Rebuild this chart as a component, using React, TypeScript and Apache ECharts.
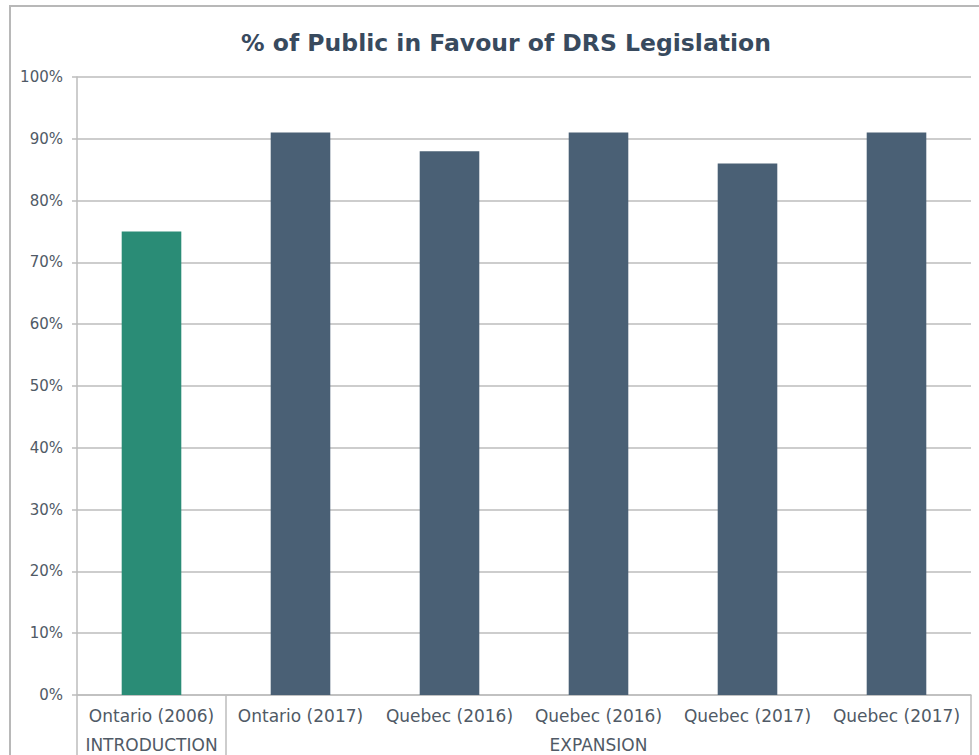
import React, { useEffect, useRef } from "react";
import * as echarts from "echarts";

const categories = [
  "Ontario (2006)",
  "Ontario (2017)",
  "Quebec (2016)",
  "Quebec (2016)",
  "Quebec (2017)",
  "Quebec (2017)",
];
const values = [75, 91, 88, 91, 86, 91];
const barColors = ["#2a8c76", "#4a6075", "#4a6075", "#4a6075", "#4a6075", "#4a6075"];
const groupLabels = ["INTRODUCTION", "", "", "EXPANSION", "", ""];
const groupBoundaries = [0, 1, 6];
const yTicks = [0, 10, 20, 30, 40, 50, 60, 70, 80, 90, 100];

const W = 979;
const H = 755;
const GL = 77;
const GR = 8;
const GT = 77;
const GB = 60;
const FONT = "'DejaVu Sans', sans-serif";
const LABEL_COLOR = "#505a66";

export default function App() {
  const ref = useRef<HTMLDivElement>(null);
  useEffect(() => {
    if (!ref.current) return;
    const chart = echarts.init(ref.current, undefined, { renderer: "svg" });
    const plotW = W - GL - GR;
    const band = plotW / categories.length;
    const axisBottom = H - GB;
    const graphics: any[] = [
      {
        type: "rect",
        shape: { x: 10, y: 6, width: W + 20, height: H + 20 },
        style: { fill: "none", stroke: "#b8b8b8", lineWidth: 2 },
        silent: true,
      },
    ];
    groupBoundaries.forEach((b) => {
      const x = GL + b * band;
      graphics.push({
        type: "line",
        shape: { x1: x, y1: axisBottom, x2: x, y2: H },
        style: { stroke: "#bdbdbd", lineWidth: 1.5 },
        silent: true,
      });
    });
    chart.setOption({
      animation: false,
      title: {
        text: "% of Public in Favour of DRS Legislation",
        left: 501,
        textAlign: "center",
        top: 26,
        textStyle: {
          fontFamily: FONT,
          fontWeight: "bold",
          fontSize: 23.5,
          color: "#384a5e",
        },
      },
      grid: { left: GL, right: GR, top: GT, bottom: GB, containLabel: false },
      xAxis: [
        {
          type: "category",
          data: categories,
          axisLine: { lineStyle: { color: "#bdbdbd", width: 1.5 } },
          axisTick: { length: 29, interval: 0, lineStyle: { color: "#bdbdbd", width: 1.5 } },
          axisLabel: {
            interval: 0,
            margin: 12,
            color: LABEL_COLOR,
            fontFamily: FONT,
            fontSize: 17,
          },
        },
        {
          type: "category",
          data: groupLabels,
          position: "bottom",
          offset: 0,
          axisLine: { show: false },
          axisTick: { show: false },
          axisLabel: {
            interval: 0,
            margin: 41,
            color: LABEL_COLOR,
            fontFamily: FONT,
            fontSize: 17,
          },
        },
      ],
      yAxis: {
        type: "value",
        min: yTicks[0],
        max: yTicks[yTicks.length - 1],
        interval: 10,
        axisLine: { show: true, lineStyle: { color: "#bdbdbd", width: 1.5 } },
        axisTick: { show: true, length: 5, lineStyle: { color: "#bdbdbd", width: 1.5 } },
        splitLine: { lineStyle: { color: "#bdbdbd", width: 1.5 } },
        axisLabel: {
          formatter: "{value}%",
          margin: 14,
          color: LABEL_COLOR,
          fontFamily: FONT,
          fontSize: 15,
        },
      },
      series: [
        {
          type: "bar",
          data: values.map((v, i) => ({ value: v, itemStyle: { color: barColors[i] } })),
          barWidth: "40%",
        },
      ],
      graphic: graphics,
    });
    return () => chart.dispose();
  }, []);
  return (
    <div
      ref={ref}
      style={{ position: "fixed", left: 0, top: 0, width: W, height: H, background: "#fff" }}
    />
  );
}
